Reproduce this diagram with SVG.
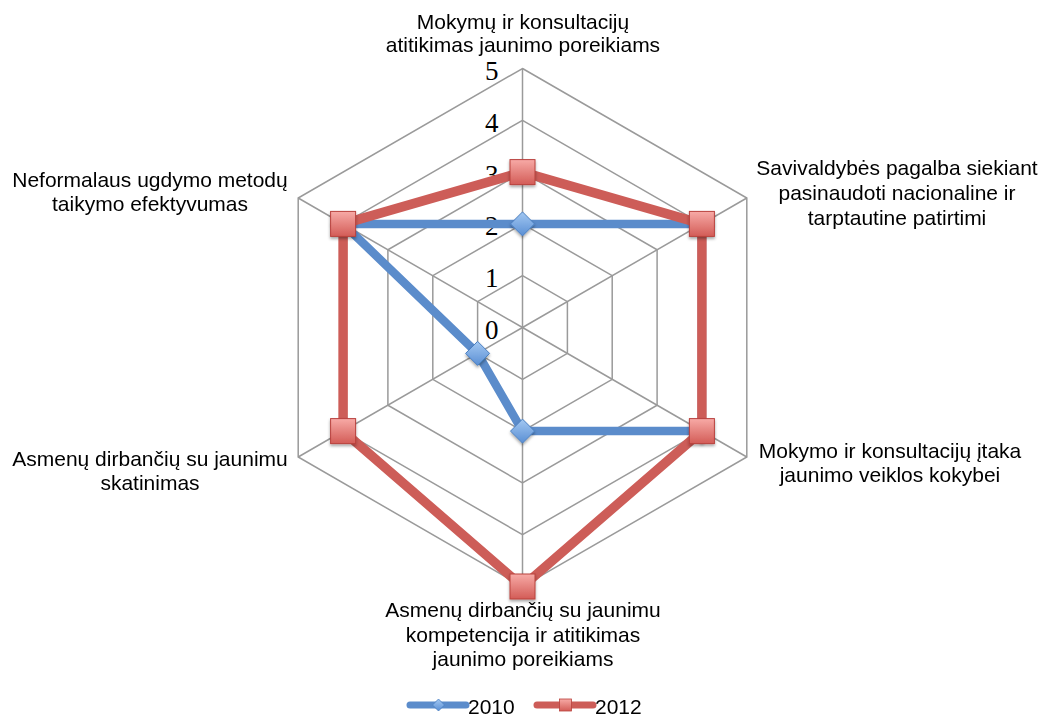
<svg xmlns="http://www.w3.org/2000/svg" width="1046" height="717" viewBox="0 0 1046 717">
<style>
.grid{fill:none;stroke:#9a9a9a;stroke-width:1.5}
.lbl{font-family:"Liberation Sans",Arial,sans-serif;font-size:21px;fill:#000;text-anchor:middle}
.num{font-family:"Liberation Serif","Times New Roman",serif;font-size:27px;fill:#000;text-anchor:end}
.s2010{fill:none;stroke:#5b8ccb;stroke-width:8.5;stroke-linejoin:round}
.s2012{fill:none;stroke:#cd5d58;stroke-width:9.5;stroke-linejoin:round}
.leg{font-family:"Liberation Sans",Arial,sans-serif;font-size:21px;fill:#000}
</style>
<defs>
<linearGradient id="gRed" x1="0" y1="0" x2="0" y2="1">
<stop offset="0" stop-color="#f7aaa6"/>
<stop offset="1" stop-color="#d35c57"/>
</linearGradient>
<linearGradient id="gBlue" x1="0" y1="0" x2="0" y2="1">
<stop offset="0" stop-color="#a3c8f2"/>
<stop offset="1" stop-color="#5a8fd4"/>
</linearGradient>
<filter id="sh" x="-50%" y="-50%" width="200%" height="200%">
<feDropShadow dx="0" dy="2" stdDeviation="1.8" flood-color="#000" flood-opacity="0.35"/>
</filter>
<rect id="sq" x="-12.5" y="-12.5" width="25" height="25" fill="url(#gRed)" stroke="#b9423d" stroke-width="1"/>
<path id="dm" d="M0,-12 L12,0 L0,12 L-12,0 Z" fill="url(#gBlue)" stroke="#4a7fc1" stroke-width="1"/>
</defs>
<rect width="1046" height="717" fill="#fff"/>
<g id="grid">
<polygon class="grid" points="522.5,275.7 567.4,301.6 567.4,353.4 522.5,379.3 477.6,353.4 477.6,301.6"/>
<polygon class="grid" points="522.5,223.9 612.2,275.7 612.2,379.3 522.5,431.1 432.8,379.3 432.8,275.7"/>
<polygon class="grid" points="522.5,172.1 657.1,249.8 657.1,405.2 522.5,482.9 387.9,405.2 387.9,249.8"/>
<polygon class="grid" points="522.5,120.3 701.9,223.9 701.9,431.1 522.5,534.7 343.1,431.1 343.1,223.9"/>
<polygon class="grid" points="522.5,68.5 746.8,198 746.8,457 522.5,586.5 298.2,457 298.2,198"/>
<path class="grid" d="M522.5,327.5 L522.5,68.5 M522.5,327.5 L746.8,198 M522.5,327.5 L746.8,457 M522.5,327.5 L522.5,586.5 M522.5,327.5 L298.2,457 M522.5,327.5 L298.2,198"/>
</g>
<g id="axis-values">
<text class="num" x="498.5" y="80">5</text>
<text class="num" x="498.5" y="132">4</text>
<text class="num" x="498.5" y="183.5">3</text>
<text class="num" x="498.5" y="235">2</text>
<text class="num" x="498.5" y="287">1</text>
<text class="num" x="498.5" y="338.5">0</text>
</g>
<g id="connectors">
<polygon class="s2010" points="522.5,223.9 701.9,223.9 701.9,431.1 522.5,431.1 477.6,353.4 343.1,223.9"/>
<g filter="url(#sh)">
<use href="#dm" x="522.5" y="223.9"/>
<use href="#dm" x="701.9" y="223.9"/>
<use href="#dm" x="701.9" y="431.1"/>
<use href="#dm" x="522.5" y="431.1"/>
<use href="#dm" x="477.6" y="353.4"/>
<use href="#dm" x="343.1" y="223.9"/>
</g>
<polygon class="s2012" points="522.5,172.1 701.9,223.9 701.9,431.1 522.5,586.5 343.1,431.1 343.1,223.9"/>
<g filter="url(#sh)">
<use href="#sq" x="522.5" y="172.1"/>
<use href="#sq" x="701.9" y="223.9"/>
<use href="#sq" x="701.9" y="431.1"/>
<use href="#sq" x="522.5" y="586.5"/>
<use href="#sq" x="343.1" y="431.1"/>
<use href="#sq" x="343.1" y="223.9"/>
</g>
</g>
<g id="node-top">
<text class="lbl" x="523" y="29">Mokymų ir konsultacijų</text>
<text class="lbl" x="523" y="52">atitikimas jaunimo poreikiams</text>
</g>
<g id="node-upper-right">
<text class="lbl" x="897" y="175">Savivaldybės pagalba siekiant</text>
<text class="lbl" x="897" y="200">pasinaudoti nacionaline ir</text>
<text class="lbl" x="897" y="225">tarptautine patirtimi</text>
</g>
<g id="node-lower-right">
<text class="lbl" x="890" y="458">Mokymo ir konsultacijų įtaka</text>
<text class="lbl" x="890" y="482">jaunimo veiklos kokybei</text>
</g>
<g id="node-bottom">
<text class="lbl" x="523" y="617">Asmenų dirbančių su jaunimu</text>
<text class="lbl" x="523" y="641.5">kompetencija ir atitikimas</text>
<text class="lbl" x="523" y="666">jaunimo poreikiams</text>
</g>
<g id="node-lower-left">
<text class="lbl" x="150" y="466">Asmenų dirbančių su jaunimu</text>
<text class="lbl" x="150" y="490">skatinimas</text>
</g>
<g id="node-upper-left">
<text class="lbl" x="150" y="187">Neformalaus ugdymo metodų</text>
<text class="lbl" x="150" y="211">taikymo efektyvumas</text>
</g>
<g id="legend">
<line x1="410" y1="705" x2="466" y2="705" stroke="#5b8ccb" stroke-width="7" stroke-linecap="round"/>
<path d="M438.5,699 L444.5,705 L438.5,711 L432.5,705 Z" fill="url(#gBlue)" stroke="#4a7fc1" stroke-width="0.8"/>
<text class="leg" x="468" y="714">2010</text>
<line x1="537" y1="705" x2="593" y2="705" stroke="#cd5d58" stroke-width="7" stroke-linecap="round"/>
<rect x="559.5" y="699" width="12" height="12" fill="url(#gRed)" stroke="#b9423d" stroke-width="0.8"/>
<text class="leg" x="595" y="714">2012</text>
</g>
</svg>
